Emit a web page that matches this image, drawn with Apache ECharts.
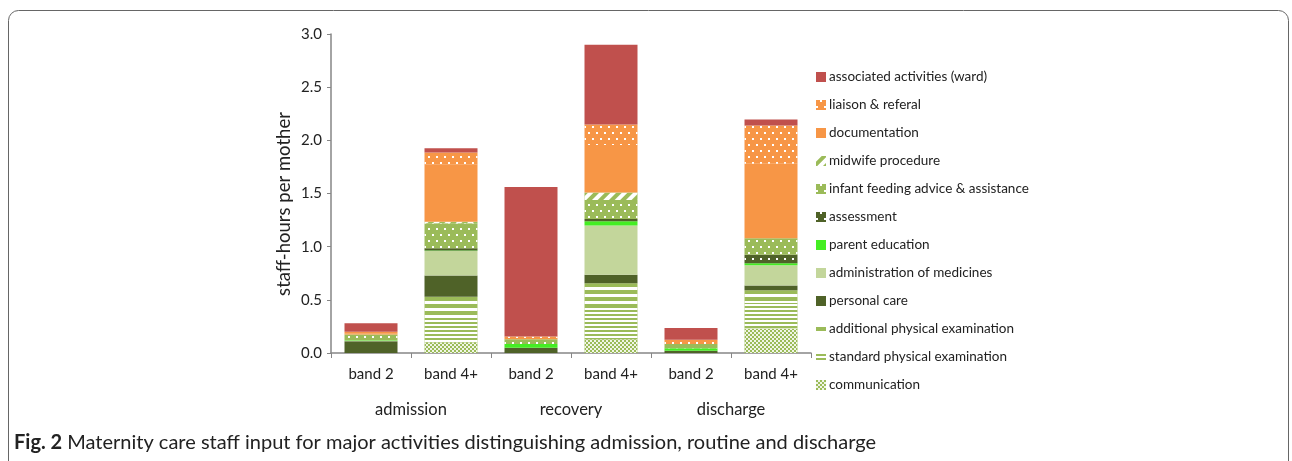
<!DOCTYPE html>
<html><head><meta charset="utf-8">
<script src="https://cdn.jsdelivr.net/npm/echarts@6/dist/echarts.min.js"></script>
<style>html,body{margin:0;padding:0;background:#fff}#c{width:1292px;height:461px}</style>
</head><body><div id="c"></div>
<script>
const categories = ['band 2', 'band 4+', 'band 2', 'band 4+', 'band 2', 'band 4+'];
const groups = ['admission', 'recovery', 'discharge'];
const yAxisName = 'staff-hours per mother';
const caption = 'Maternity care staff input for major activities distinguishing admission, routine and discharge';

// bottom to top of each stack
const communication     = [0,     0.10,  0,     0.13,  0,     0.23];
const standardExam      = [0,     0.23,  0,     0.275, 0,     0.24];
const additionalExam    = [0,     0.20,  0,     0.25,  0,     0.12];
const personalCare      = [0.11,  0.20,  0.05,  0.08,  0.02,  0.045];
const administration    = [0.005, 0.23,  0,     0.465, 0,     0.19];
const parentEducation   = [0.005, 0.005, 0.035, 0.04,  0.025, 0.02];
const assessment        = [0,     0.02,  0,     0.02,  0,     0.08];
const infantFeeding     = [0.055, 0.235, 0.045, 0.18,  0.04,  0.155];
const midwifeProcedure  = [0,     0.015, 0,     0.07,  0,     0];
const documentation     = [0.01,  0.535, 0.01,  0.445, 0,     0.70];
const liaison           = [0.015, 0.115, 0.015, 0.195, 0.04,  0.36];
const associated        = [0.08,  0.04,  1.405, 0.75,  0.11,  0.055];

const FONT = 'Lato';
const dots = { color: '#fff', symbol: 'rect', symbolSize: 1, dashArrayX: [[2, 6], [0, 4, 2, 2]], dashArrayY: [2, 4], rotation: 0 };
const seriesDefs = [
  ['communication', communication, '#9BBB59', { color: 'rgba(255,255,255,0.85)', symbol: 'rect', symbolSize: 1, dashArrayX: [[2, 2], [0, 2, 2, 0]], dashArrayY: [2, 0], rotation: 0 }],
  ['standard physical examination', standardExam, '#9BBB59', { color: '#fff', symbol: 'rect', symbolSize: 1, dashArrayX: [1, 0], dashArrayY: [2, 2], rotation: 0 }],
  ['additional physical examination', additionalExam, '#9BBB59', { color: '#fff', symbol: 'rect', symbolSize: 1, dashArrayX: [1, 0], dashArrayY: [3, 4], rotation: 0 }],
  ['personal care', personalCare, '#4F6228', null],
  ['administration of medicines', administration, '#C3D69B', null],
  ['parent education', parentEducation, '#44EE22', null],
  ['assessment', assessment, '#4F6228', dots],
  ['infant feeding advice & assistance', infantFeeding, '#9BBB59', dots],
  ['midwife procedure', midwifeProcedure, '#9BBB59', { color: '#fff', symbol: 'rect', symbolSize: 1, dashArrayX: [1, 0], dashArrayY: [4, 4], rotation: -Math.PI / 4 }],
  ['documentation', documentation, '#F79646', null],
  ['liaison & referal', liaison, '#F79646', dots],
  ['associated activities (ward)', associated, '#C0504D', null]
];

const series = seriesDefs.map(([name, data, color, decal]) => ({
  name, type: 'bar', stack: 'total', data, barWidth: 53, xAxisIndex: 0,
  itemStyle: decal ? { color, decal } : { color },
  emphasis: { disabled: true }
}));

const chart = echarts.init(document.getElementById('c'), null, { renderer: 'canvas' });
chart.setOption({
  animation: false,
  textStyle: { fontFamily: FONT },
  grid: { left: 331, right: 481, top: 34, bottom: 108, containLabel: false },
  legend: {
    orient: 'vertical', left: 816, top: 70, padding: 0,
    itemWidth: 10, itemHeight: 10, itemGap: 14,
    icon: 'rect',
    data: seriesDefs.map(d => d[0]).reverse(),
    textStyle: { fontFamily: FONT, fontSize: 13.5, color: '#222', lineHeight: 14, padding: [0, 0, 0, -2] }
  },
  xAxis: [
    {
      type: 'category', data: categories, position: 'bottom',
      axisLine: { lineStyle: { color: '#868686', width: 1.5 } },
      axisTick: { show: true, length: 5, lineStyle: { color: '#868686' } },
      axisLabel: { fontFamily: FONT, fontSize: 15, color: '#222', margin: 14 }
    },
    {
      type: 'category', data: groups, position: 'bottom', offset: 34,
      axisLine: { show: false }, axisTick: { show: false },
      axisLabel: { fontFamily: FONT, fontSize: 16.5, color: '#222', margin: 14 }
    }
  ],
  yAxis: {
    type: 'value', min: 0, max: 3, interval: 0.5,
    axisLine: { show: true, lineStyle: { color: '#868686', width: 1.5 } },
    axisTick: { show: true, length: 4, lineStyle: { color: '#868686' } },
    splitLine: { show: false },
    axisLabel: { fontFamily: FONT, fontSize: 15, color: '#222', margin: 9, formatter: v => v.toFixed(1) }
  },
  series,
  graphic: [
    { type: 'rect', silent: true, shape: { x: 8.5, y: 10.5, width: 1280, height: 520, r: 10 }, style: { fill: 'none', stroke: '#666', lineWidth: 1 } },
    { type: 'text', silent: true, x: 284, y: 204, rotation: Math.PI / 2,
      style: { text: yAxisName, fontFamily: FONT, fontSize: 18.5, fill: '#222', align: 'center', verticalAlign: 'middle' } },
    { type: 'text', silent: true, left: 14, top: 433,
      style: { text: '{b|Fig. 2} ' + caption, fontFamily: FONT, fontSize: 20, fill: '#222',
        rich: { b: { fontFamily: FONT, fontSize: 20, fontWeight: 'bold', fill: '#222' } } } }
  ]
});
</script></body></html>
